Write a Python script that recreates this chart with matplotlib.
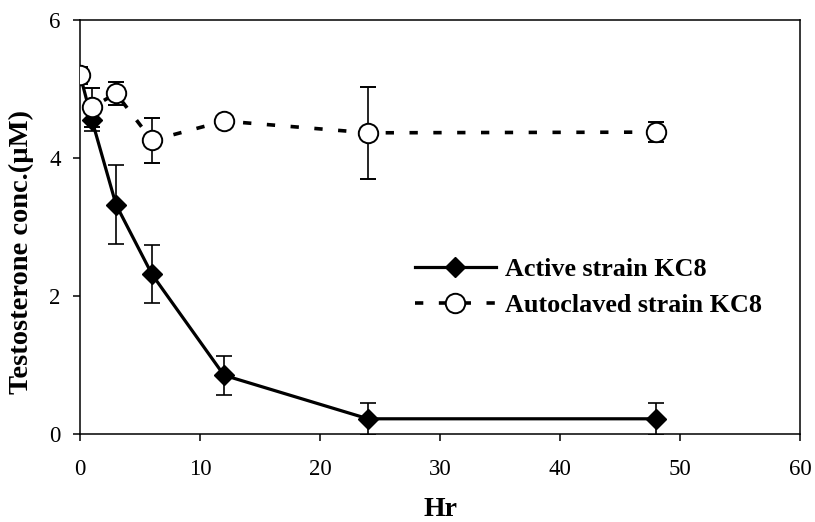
import matplotlib
matplotlib.use("Agg")
import matplotlib.pyplot as plt
from matplotlib.lines import Line2D

plt.rcParams['font.family'] = ['Liberation Serif', 'DejaVu Serif']

# Sampling times (h)
hours = [0, 1, 3, 6, 12, 24, 48]

# Active strain KC8
active_mean = [5.20, 4.54, 3.32, 2.31, 0.85, 0.22, 0.22]
active_err = [0.10, 0.15, 0.57, 0.42, 0.28, 0.23, 0.23]

# Autoclaved strain KC8
autoclaved_mean = [5.19, 4.73, 4.93, 4.25, 4.53, 4.36, 4.37]
autoclaved_err = [0.12, 0.28, 0.17, 0.32, 0.05, 0.67, 0.15]

x_ticks = [0, 10, 20, 30, 40, 50, 60]
y_ticks = [0, 2, 4, 6]

active_style = dict(color='black', linestyle='-', linewidth=2.3, marker='D',
                    markersize=10, markerfacecolor='black',
                    markeredgecolor='black')
auto_style = dict(color='black', linestyle=(0, (2.3, 4.3)), linewidth=2.6,
                  marker='o', markersize=14, markerfacecolor='white',
                  markeredgecolor='black', markeredgewidth=1.4)

fig = plt.figure(figsize=(8.15, 5.22), dpi=100)
ax = fig.add_axes([0.0982, 0.1686, 0.8834, 0.794])

ax.errorbar(hours, active_mean, yerr=active_err, ecolor='black',
            elinewidth=1.2, capsize=6, capthick=1.2, zorder=3,
            **active_style)
ax.errorbar(hours, autoclaved_mean, yerr=autoclaved_err, ecolor='black',
            elinewidth=1.2, capsize=6, capthick=1.2, zorder=4,
            **auto_style)

ax.set_xlim(0, 60)
ax.set_ylim(0, 6)
ax.set_xticks(x_ticks)
ax.set_yticks(y_ticks)
ax.tick_params(direction='out', length=5, width=1.1, labelsize=16.5, pad=9)
ax.tick_params(axis='x', pad=13)
for s in ax.spines.values():
    s.set_linewidth(1.1)

ax.set_xlabel('Hr', fontsize=20, fontweight='bold', labelpad=12)
ax.set_ylabel('Testosterone conc.(µM)', fontsize=20.5, fontweight='bold')
ax.yaxis.set_label_coords(-0.064, 0.44)

handles = [Line2D([], [], **active_style),
           Line2D([], [], **auto_style)]
labels = ['Active strain KC8', 'Autoclaved strain KC8']
leg = ax.legend(handles, labels, loc='upper left',
                bbox_to_anchor=(0.465, 0.425), frameon=False, fontsize=18.8,
                handlelength=3.1, handletextpad=0.35, labelspacing=0.5,
                borderaxespad=0, borderpad=0)
for t in leg.get_texts():
    t.set_fontweight('bold')

fig.savefig('out.png', dpi=100)
